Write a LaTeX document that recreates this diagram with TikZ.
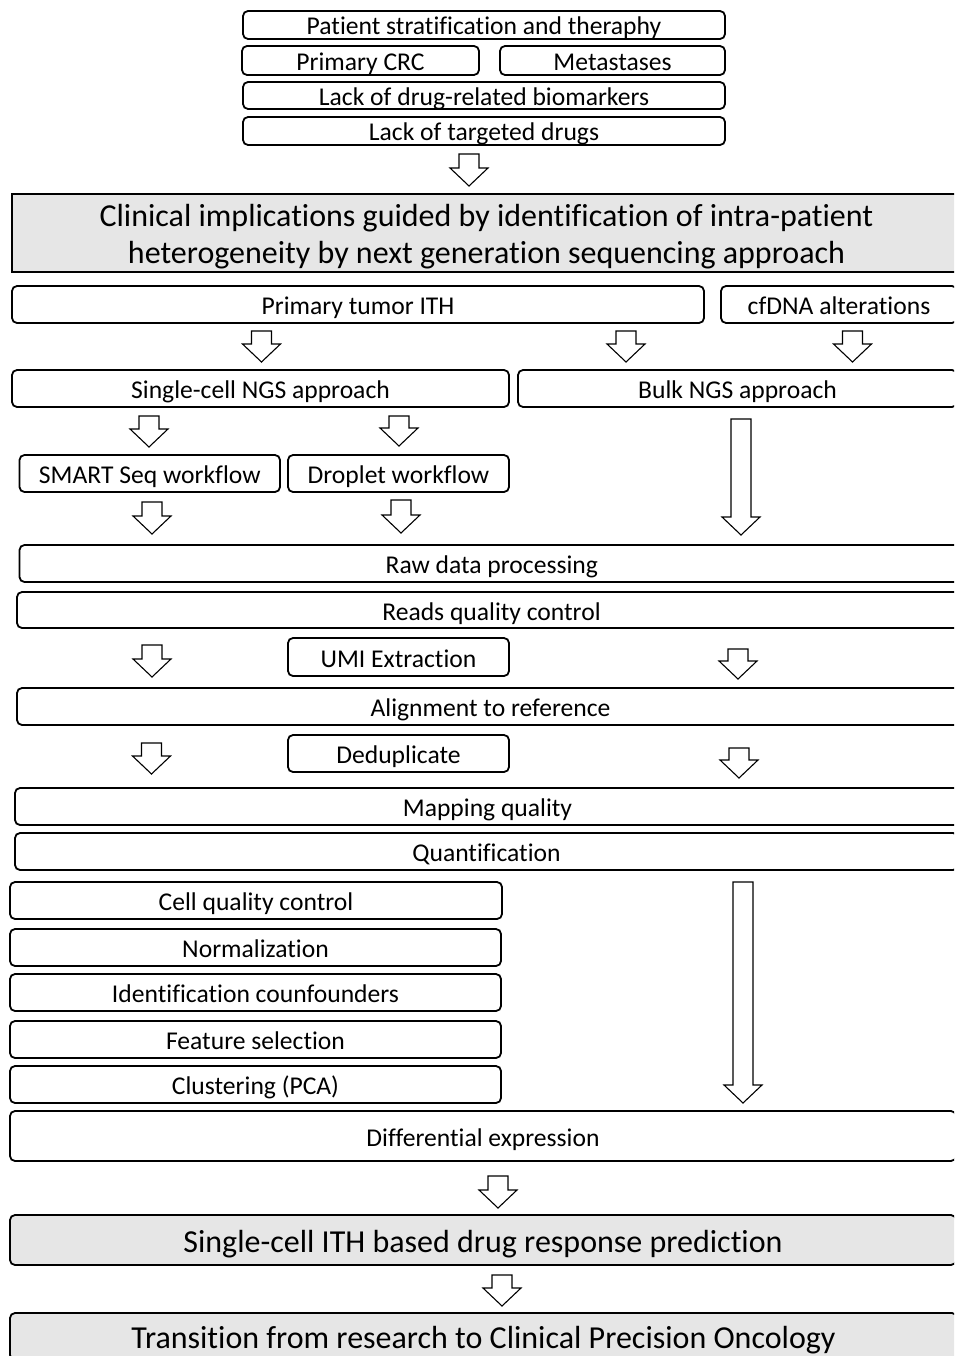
\documentclass[tikz,border=0pt]{standalone}
\usepackage{fontspec}
\setmainfont{Carlito}[Ligatures=CommonOff]
\definecolor{boxgray}{RGB}{230,230,230}
\tikzset{
  box/.style={draw=black, line width=1.8pt, rounded corners=5pt, fill=white,
    inner sep=0pt, outer sep=0pt, anchor=north west, align=center,
    font=\fontsize{25.6}{30}\selectfont, text height=20pt, text depth=0pt},
  gbox/.style={box, fill=boxgray, font=\fontsize{32}{37}\selectfont, text height=24.6pt},
  hbox/.style={draw=black, line width=1.8pt, fill=boxgray, inner sep=0pt, outer sep=0pt,
    anchor=north west, align=center, font=\fontsize{32}{37}\selectfont},
  barr/.style={draw=black, line width=1.1pt, fill=white, line join=miter}
}
\newcommand\bx[7][box]{%
  \node[#1, minimum width={#5pt-#3pt}, minimum height={#6pt-#4pt}] (#2) at (#3,#4) {#7};}
\newcommand\barrow[3]{% center x, top y, bottom y
  \draw[barr] ({#1-10},#2) -- ({#1+10},#2) -- ({#1+10},{#3-18}) -- ({#1+19},{#3-18})
    -- (#1,#3) -- ({#1-19},{#3-18}) -- ({#1-10},{#3-18}) -- cycle;}
\begin{document}
\begin{tikzpicture}[x=1pt,y=-1pt]
\useasboundingbox (0,0) rectangle (954,1356);
\clip (0,0) rectangle (954,1356);
% top block
\bx{pat}{243}{11}{725}{39}{Patient stratification and theraphy}
\bx{crc}{242}{46}{479}{75}{Primary CRC}
\bx{met}{500}{46}{725}{75}{Metastases}
\bx{bio}{243}{82}{725}{109}{Lack of drug-related biomarkers}
\bx{drg}{243}{117}{725}{145}{Lack of targeted drugs}
\barrow{469}{154}{186}
% heading
\bx[hbox]{head}{12}{194}{961}{272}{\rule{0pt}{30pt}Clinical implications guided by identification of intra-patient\\heterogeneity by next generation sequencing approach}
% ITH
\bx{ith}{12}{286}{704}{323}{Primary tumor ITH}
\bx{cfd}{721}{286}{957}{323}{cfDNA alterations}
\barrow{261.5}{331}{362}
\barrow{626}{331}{362}
\barrow{852.5}{331}{362}
\bx{sc}{12}{370}{509}{407}{Single-cell NGS approach}
\bx{bulk}{518}{370}{957}{407}{Bulk NGS approach}
\barrow{149}{416}{447}
\barrow{399}{416}{446}
\bx{smart}{19.5}{455}{280}{492}{SMART Seq workflow}
\bx{drop}{288}{455}{509}{492}{Droplet workflow}
\barrow{741}{419}{535}
\barrow{152}{502}{534}
\barrow{401}{500}{533}
% processing
\bx{raw}{19.5}{545}{964}{582}{Raw data processing}
\bx{rqc}{17}{592}{966}{628}{Reads quality control}
\barrow{152}{645}{677}
\bx{umi}{288}{638}{509}{676}{UMI Extraction}
\barrow{738}{649}{679}
\bx{aln}{17}{688}{964}{725}{Alignment to reference}
\barrow{151.5}{743}{774}
\bx{dedup}{288}{735}{509}{772}{Deduplicate}
\barrow{739}{748}{778}
\bx{mapq}{15}{788}{960}{825}{Mapping quality}
\bx{quant}{15}{833}{958}{870}{Quantification}
% single-cell analysis
\bx{cqc}{10}{882}{502}{919}{Cell quality control}
\bx{norm}{10}{929}{501}{966}{Normalization}
\bx{ident}{10}{974}{501}{1011}{Identification counfounders}
\bx{feat}{10}{1021}{501}{1058}{Feature selection}
\bx{clus}{10}{1066}{501}{1103}{Clustering (PCA)}
\barrow{743}{882}{1103}
\bx{diff}{10}{1111}{956}{1161}{Differential expression}
\barrow{498}{1176}{1208}
\bx[gbox]{scith}{10}{1215}{956}{1265}{Single-cell ITH based drug response prediction}
\barrow{502}{1275}{1306}
\bx[gbox]{trans}{10}{1313}{957}{1360}{Transition from research to Clinical Precision Oncology}
\end{tikzpicture}
\end{document}
